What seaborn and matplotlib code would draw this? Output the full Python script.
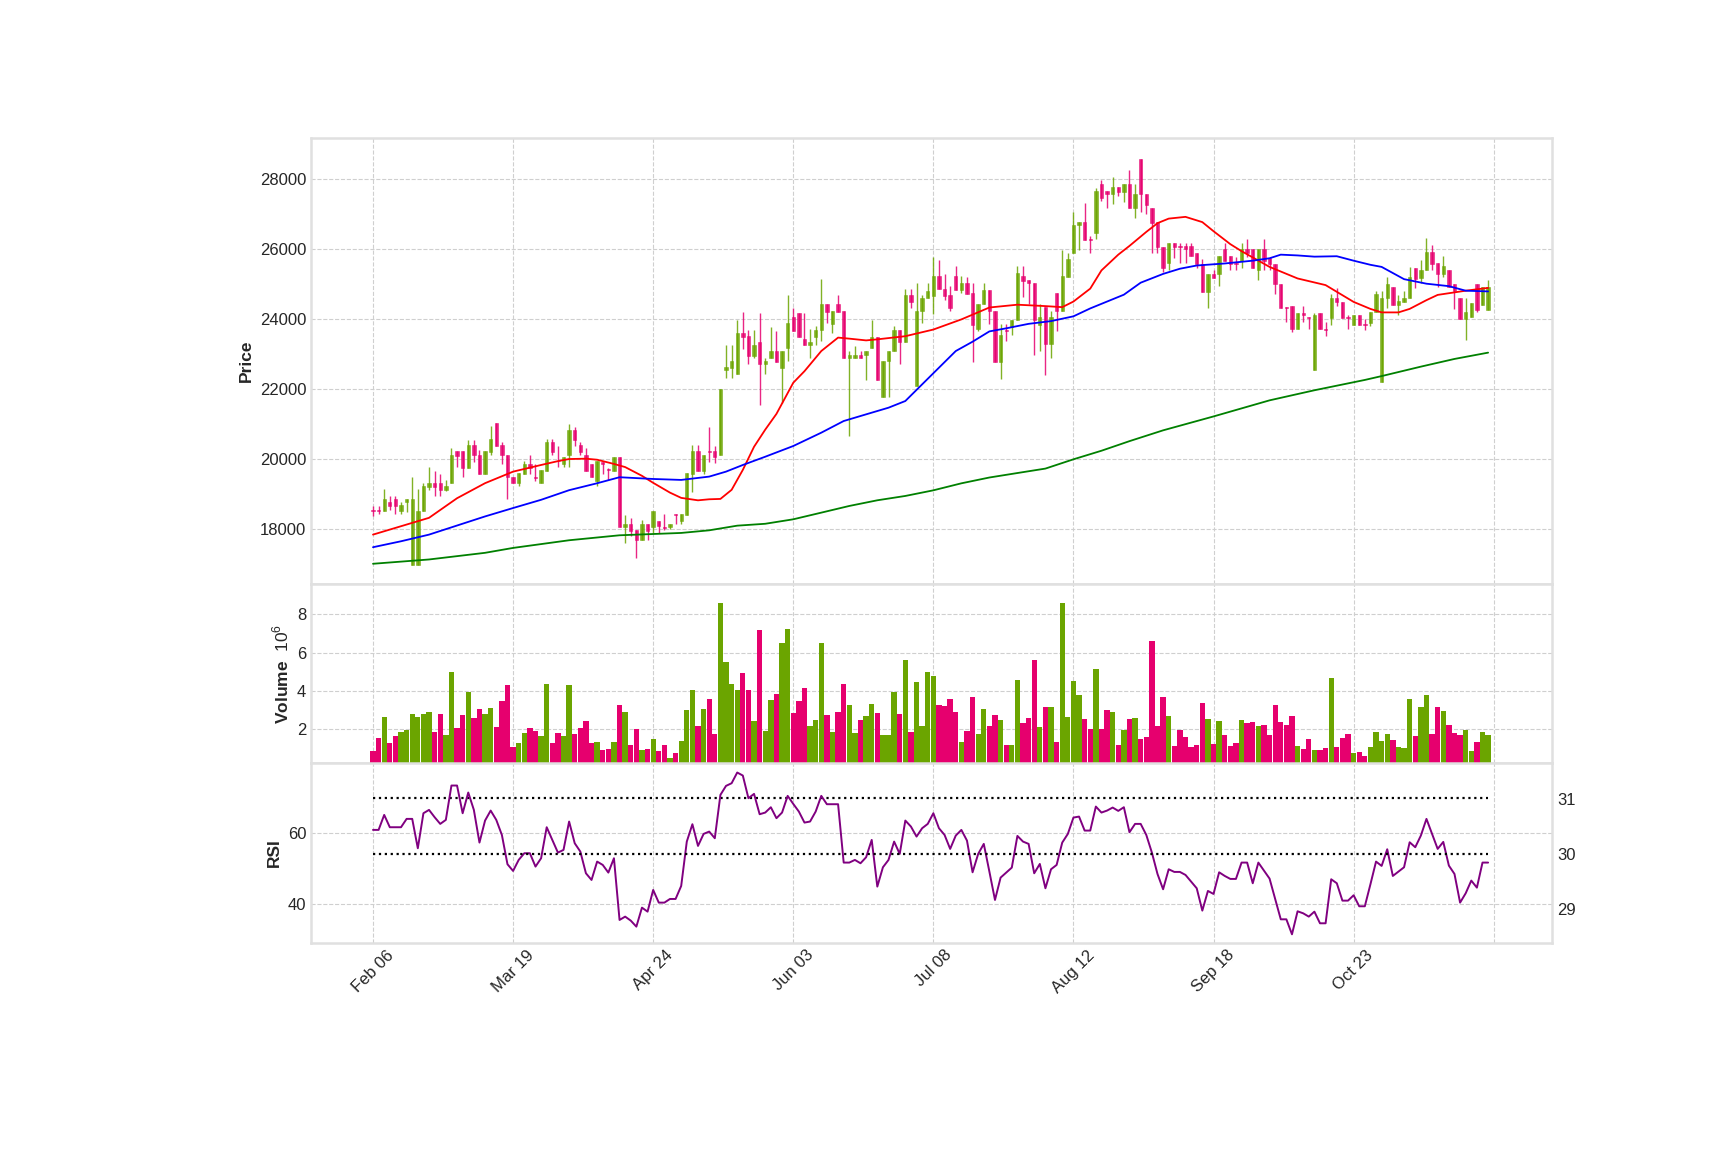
import numpy as np
import matplotlib
matplotlib.use("Agg")
import matplotlib.pyplot as plt
import seaborn as sns

# ---- data (trading-day index 0..199) ----
opens = [18550, 18550, 18513, 18778, 18873, 18513, 18769, 16979, 16979, 18513,
         19223, 19318, 19318, 19129, 19318, 20237, 20237, 19763, 20407, 20123,
         19583, 20218, 21042, 20407, 20123, 19489, 19318, 19583, 19867, 19500,
         19318, 19678, 20483, 19960, 19858, 20123, 20852, 20407, 20123, 19867,
         19384, 19934, 19720, 19678, 20057, 18059, 18163, 17992, 17689, 18163,
         18059, 18250, 18080, 18059, 18440, 18229, 18418, 19583, 20237, 19678,
         20240, 20237, 20123, 22543, 22620, 22448, 23600, 23524, 22953, 23353,
         22715, 22886, 23096, 22620, 23172, 24067, 24171, 23429, 23257, 23505,
         23695, 24428, 23876, 24428, 24238, 22886, 22886, 22981, 22981, 23172,
         23505, 21791, 22810, 23096, 23695, 23353, 24695, 22096, 24238, 24600,
         24667, 25238, 24857, 24695, 25238, 24828, 25028, 24755, 23726, 24441,
         24833, 24245, 22795, 23690, 23775, 23970, 25245, 25127, 25049, 23853,
         24343, 23285, 24755, 24245, 25225, 25906, 26696, 26781, 26300, 26477,
         27857, 27667, 27572, 27781, 27648, 27857, 27172, 28571, 27572, 27172,
         26781, 26077, 25601, 26172, 26100, 26092, 26092, 25885, 25597, 24792,
         25310, 25310, 26000, 25804, 25610, 25655, 26000, 26000, 25402, 26000,
         25747, 25597, 25023, 24340, 24390, 23723, 24183, 24055, 22550, 24183,
         23730, 24045, 24598, 24505, 24055, 23838, 24114, 23860, 23900, 24220,
         22220, 24600, 24920, 24400, 24500, 24600, 25480, 25180, 25400, 25920,
         25600, 25300, 25400, 25000, 24600, 24000, 24080, 25000, 24400, 24280]
highs = [18660, 18660, 19148, 18967, 18940, 18770, 18873, 19488, 19148, 19337,
         19773, 19678, 19583, 19413, 20331, 20237, 20237, 20568, 20568, 20265,
         20237, 20947, 21042, 20483, 20123, 19489, 19621, 19953, 20123, 19867,
         19697, 20578, 20578, 20388, 20057, 21023, 20928, 20483, 20312, 19867,
         19953, 19934, 19767, 20057, 20057, 18409, 18314, 17992, 18258, 18163,
         18532, 18250, 18440, 18163, 18440, 18437, 19602, 20407, 20407, 20123,
         20928, 20388, 22000, 23257, 23257, 23971, 24219, 23686, 23686, 24171,
         22886, 23791, 23681, 23096, 24695, 24333, 24171, 24171, 23714, 23810,
         25142, 24428, 24238, 24695, 24238, 23096, 23238, 23096, 23096, 23972,
         23505, 22810, 23096, 23810, 23695, 24857, 24857, 25047, 24695, 25047,
         25780, 25685, 25285, 24952, 25523, 25245, 25225, 25029, 24441, 25029,
         24833, 24245, 23873, 23873, 23990, 25519, 25519, 25127, 25049, 24441,
         24343, 24245, 24755, 25980, 25911, 27077, 26781, 27334, 26380, 27762,
         27971, 27667, 28067, 27781, 27857, 28257, 27857, 28571, 27572, 27172,
         26781, 26077, 26172, 26172, 26172, 26172, 26172, 25885, 25712, 25310,
         25425, 25804, 26172, 25804, 25770, 26172, 26287, 26000, 26000, 26287,
         25747, 25597, 25023, 24340, 24390, 24183, 24390, 24055, 24183, 24183,
         23930, 24712, 24908, 24505, 24114, 24114, 24114, 24000, 24200, 24800,
         24800, 25200, 24920, 24700, 24800, 25500, 25480, 25700, 26320, 26120,
         25600, 25800, 25400, 25000, 24600, 24600, 24480, 25000, 24920, 25120]
lows = [18370, 18440, 18513, 18550, 18430, 18440, 18510, 16979, 16979, 18513,
        19129, 18964, 18964, 19110, 19318, 19777, 19489, 19763, 19933, 19583,
        19583, 20123, 20388, 19867, 18864, 19318, 19242, 19583, 19583, 19394,
        19318, 19678, 20123, 19780, 19790, 19790, 20388, 20123, 19678, 19489,
        19242, 19583, 19413, 19678, 18059, 17613, 17803, 17187, 17689, 17689,
        17897, 17900, 17970, 18000, 18163, 18150, 18418, 19072, 19678, 19583,
        19933, 19895, 20123, 22334, 22334, 22448, 23162, 22715, 22886, 21553,
        22448, 22886, 22791, 21620, 22810, 23667, 23505, 23257, 22905, 23257,
        23381, 23905, 23619, 24219, 22886, 20668, 22886, 22886, 22258, 23172,
        22258, 21791, 21791, 23096, 22715, 23353, 24314, 22096, 23905, 24600,
        24143, 24857, 24543, 24238, 24828, 24755, 24735, 22795, 23677, 24441,
        23873, 22795, 22305, 23383, 23559, 23970, 24637, 24441, 22990, 23089,
        22403, 22893, 23677, 24245, 25225, 25906, 25990, 26267, 25906, 26286,
        27381, 27191, 27286, 27524, 27362, 27172, 26886, 27077, 27000, 25906,
        25886, 25363, 25410, 25760, 25620, 25620, 25804, 25482, 24792, 24332,
        25195, 24942, 25678, 25400, 25400, 25482, 25770, 25482, 25137, 25400,
        25400, 24735, 24332, 23930, 23642, 23723, 23930, 23723, 22550, 23723,
        23530, 23838, 24390, 24045, 23723, 23838, 23838, 23700, 23820, 24220,
        22220, 24320, 24400, 24120, 24500, 24600, 24900, 25050, 25400, 25400,
        24920, 25200, 24920, 24300, 24000, 23400, 24080, 24200, 24400, 24280]
closes = [18520, 18520, 18873, 18674, 18674, 18693, 18873, 18873, 18532, 19242,
          19318, 19223, 19129, 19242, 20123, 20104, 19763, 20407, 20123, 19583,
          20237, 20578, 20388, 20123, 19489, 19318, 19621, 19867, 19763, 19480,
          19697, 20483, 20218, 19940, 20057, 20852, 20568, 20218, 19678, 19489,
          19953, 19858, 19700, 20057, 18059, 18163, 17964, 17689, 18163, 17964,
          18532, 18100, 18050, 18163, 18420, 18437, 19602, 20237, 19678, 20123,
          20220, 20057, 22000, 22639, 22810, 23600, 23505, 22953, 23267, 22715,
          22810, 23096, 22791, 23096, 23905, 23667, 23505, 23257, 23353, 23695,
          24428, 24219, 24238, 24219, 22886, 22981, 22981, 22886, 23096, 23505,
          22258, 22810, 23096, 23695, 23353, 24695, 24505, 24238, 24619, 24809,
          25238, 24857, 24667, 24333, 24828, 25028, 24735, 23853, 24441, 24833,
          24245, 22795, 23559, 23670, 23990, 25323, 25098, 25029, 23970, 24069,
          23285, 24069, 24245, 25245, 25715, 26696, 26781, 26267, 26280, 27667,
          27457, 27572, 27781, 27648, 27857, 27172, 27591, 27572, 27267, 26762,
          26077, 25477, 26172, 26077, 26080, 26000, 25804, 25597, 24792, 25310,
          25195, 25804, 25678, 25597, 25590, 26000, 25885, 25482, 26000, 25678,
          25597, 25023, 24332, 24320, 23723, 24183, 24114, 24035, 24126, 23723,
          23710, 24598, 24505, 24045, 24035, 24114, 23838, 23840, 24200, 24720,
          24600, 25000, 24400, 24520, 24600, 25200, 25150, 25400, 25920, 25580,
          25300, 25520, 24920, 24820, 24000, 24220, 24480, 24280, 24920, 24920]
volume_m = [0.87, 1.55, 2.65, 1.28, 1.65, 1.86, 1.97, 2.80, 2.65, 2.80,
            2.91, 1.86, 2.80, 1.70, 5.00, 2.07, 2.75, 3.95, 2.59, 3.06,
            2.80, 3.12, 2.12, 3.48, 4.32, 1.08, 1.28, 1.81, 2.07, 1.91,
            1.65, 4.37, 1.28, 1.81, 1.65, 4.32, 1.76, 2.07, 2.44, 1.28,
            1.34, 0.92, 0.97, 1.34, 3.27, 2.91, 1.18, 2.02, 0.92, 0.97,
            1.49, 0.87, 1.18, 0.50, 0.76, 1.39, 3.01, 4.06, 2.17, 3.06,
            3.59, 1.76, 8.61, 5.53, 4.37, 4.06, 4.95, 4.06, 2.44, 7.20,
            1.91, 3.53, 3.84, 6.49, 7.23, 2.85, 3.48, 4.16, 2.17, 2.49,
            6.49, 2.75, 1.86, 2.90, 4.37, 3.27, 1.81, 2.49, 2.70, 3.32,
            2.85, 1.70, 1.70, 3.95, 2.80, 5.62, 1.86, 4.47, 2.17, 4.99,
            4.78, 3.27, 3.22, 3.58, 2.90, 1.34, 1.91, 3.68, 1.77, 3.05,
            2.18, 2.75, 2.48, 1.20, 1.20, 4.55, 2.32, 2.59, 5.59, 2.13,
            3.16, 3.16, 1.32, 8.61, 2.63, 4.50, 3.79, 2.54, 2.04, 5.13,
            2.04, 3.00, 2.89, 1.20, 1.96, 2.54, 2.59, 1.50, 1.61, 6.59,
            2.18, 3.68, 2.68, 1.15, 1.98, 1.58, 1.08, 1.19, 3.35, 2.56,
            1.25, 2.42, 1.69, 1.15, 1.27, 2.46, 2.33, 2.38, 2.17, 2.21,
            1.71, 3.29, 2.38, 2.21, 2.67, 1.15, 0.96, 1.48, 0.94, 0.94,
            1.02, 4.69, 1.08, 1.54, 1.75, 0.77, 0.83, 0.63, 1.08, 1.85,
            1.39, 1.76, 1.45, 1.08, 1.03, 3.58, 1.65, 3.17, 3.78, 1.74,
            3.17, 2.95, 2.22, 1.80, 1.71, 1.94, 0.86, 1.34, 1.85, 1.71]
rsi = [60.94, 60.94, 65.16, 61.69, 61.69, 61.69, 64.04, 64.04, 55.77, 65.63,
       66.57, 64.51, 62.63, 63.76, 73.43, 73.43, 65.63, 71.46, 66.57, 57.37,
       63.57, 66.38, 63.76, 59.53, 51.27, 49.39, 52.49, 54.37, 54.37, 50.61,
       52.96, 61.69, 58.12, 54.55, 55.31, 63.29, 57.18, 54.84, 48.73, 46.85,
       52.02, 51.08, 48.92, 52.96, 35.59, 36.53, 35.40, 33.71, 39.06, 37.93,
       44.04, 40.47, 40.47, 41.50, 41.50, 45.16, 57.65, 62.54, 56.43, 59.81,
       60.47, 58.59, 70.80, 73.33, 74.08, 77.09, 76.24, 69.86, 71.08, 65.35,
       65.82, 67.32, 64.23, 65.82, 70.52, 68.26, 66.10, 63.00, 63.29, 66.10,
       70.52, 68.17, 68.17, 68.17, 51.74, 51.74, 52.49, 51.55, 53.24, 58.12,
       44.98, 50.42, 52.49, 57.65, 54.18, 63.57, 61.88, 59.06, 61.41, 62.63,
       65.63, 61.41, 59.53, 55.59, 59.34, 60.94, 57.93, 49.01, 54.18, 57.00,
       49.20, 41.22, 47.51, 48.92, 50.33, 59.25, 57.65, 57.00, 48.73, 51.36,
       44.51, 49.86, 51.08, 57.37, 59.81, 64.41, 64.69, 60.75, 60.75, 67.51,
       65.82, 66.38, 67.23, 66.29, 67.32, 60.28, 62.63, 62.63, 59.53, 54.55,
       48.54, 44.23, 49.86, 49.11, 49.11, 48.26, 46.38, 44.51, 38.22, 43.76,
       42.91, 49.01, 47.98, 47.14, 47.14, 51.74, 51.74, 45.92, 51.74, 49.48,
       47.23, 41.50, 35.77, 35.77, 31.55, 38.03, 37.46, 36.53, 37.93, 34.65,
       34.65, 47.04, 45.92, 41.03, 41.03, 42.54, 39.44, 39.44, 45.63, 52.02,
       50.80, 55.49, 47.98, 49.20, 50.42, 57.46, 56.06, 59.34, 64.04, 59.81,
       55.59, 57.56, 50.89, 48.54, 40.47, 43.10, 46.67, 44.69, 51.74, 51.74]

# moving averages, read at sample days
ma_fast_idx = [0, 5, 10, 15, 20, 25, 30, 33, 35, 38, 40, 43, 45, 48, 50, 53, 55, 58,
               60, 62, 64, 66, 68, 70, 72, 75, 77, 80, 83, 85, 88, 90, 95, 100,
               105, 110, 115, 120, 123, 125, 128, 130, 133, 135, 138, 140, 142,
               145, 148, 150, 153, 155, 158, 160, 165, 170, 175, 178, 180, 183,
               185, 188, 190, 195, 199]
ma_fast = [17850, 18090, 18330, 18890, 19320, 19650, 19840, 19950, 20010, 20020,
           19990, 19870, 19780, 19530, 19330, 19050, 18900, 18830, 18860, 18870,
           19130, 19700, 20360, 20850, 21300, 22190, 22520, 23096, 23480, 23450,
           23400, 23430, 23520, 23710, 24000, 24340, 24420, 24380, 24350, 24510,
           24880, 25400, 25850, 26100, 26500, 26750, 26880, 26930, 26780, 26520,
           26150, 25950, 25680, 25500, 25170, 24980, 24500, 24300, 24200, 24200,
           24300, 24550, 24700, 24820, 24900]
ma_mid_idx = [0, 5, 10, 15, 20, 25, 30, 35, 40, 44, 50, 55, 60, 63, 66, 70, 75, 80,
              84, 88, 92, 95, 98, 101, 104, 107, 110, 113, 117, 121, 125, 128, 131,
              134, 137, 141, 144, 147, 152, 157, 160, 162, 165, 168, 172, 175, 178,
              180, 184, 188, 192, 195, 199]
ma_mid = [17490, 17660, 17850, 18110, 18370, 18610, 18845, 19120, 19318, 19490,
          19440, 19413, 19508, 19650, 19840, 20076, 20382, 20763, 21096, 21287,
          21477, 21668, 22144, 22620, 23096, 23363, 23657, 23745, 23873, 23951,
          24088, 24314, 24510, 24706, 25049, 25300, 25448, 25540, 25598, 25678,
          25747, 25850, 25828, 25793, 25805, 25678, 25560, 25500, 25150, 25020,
          24950, 24820, 24800]
ma_slow_idx = [0, 10, 20, 25, 35, 44, 55, 60, 65, 70, 75, 80, 85, 90, 95, 100, 105,
               110, 115, 120, 125, 130, 135, 141, 150, 160, 168, 177, 180, 187, 193, 199]
ma_slow = [17017, 17140, 17330, 17470, 17689, 17831, 17898, 17973, 18106, 18160,
           18288, 18478, 18669, 18831, 18955, 19116, 19316, 19482, 19610, 19737,
           20002, 20247, 20521, 20830, 21227, 21687, 21975, 22270, 22380, 22650,
           22870, 23050]

tick_pos = [0, 25, 50, 75, 100, 125, 150, 175, 200]
tick_labels = ["Feb 06", "Mar 19", "Apr 24", "Jun 03", "Jul 08", "Aug 12",
               "Sep 18", "Oct 23", ""]

# ---- styling ----
sns.set_style("whitegrid", {"grid.linestyle": "--", "grid.color": "#cfcfcf",
                            "axes.edgecolor": "#e0e0e0"})
plt.rcParams["font.family"] = ["Liberation Sans", "DejaVu Sans"]
plt.rcParams["mathtext.fontset"] = "custom"
plt.rcParams["mathtext.rm"] = "Liberation Sans"
plt.rcParams["axes.linewidth"] = 1.8

UP, DOWN = "#6ba500", "#e6006e"

idx = np.arange(len(closes))
o = np.array(opens); c = np.array(closes)
h = np.array(highs); l = np.array(lows)
up = c >= o
cols = [UP if u else DOWN for u in up]

fig = plt.figure(figsize=(17.25, 11.5), dpi=100)
L, W = 0.1803, 0.7194
ax_p = fig.add_axes([L, 0.4919, W, 0.3883])
ax_v = fig.add_axes([L, 0.3363, W, 0.1556], sharex=ax_p)
ax_r = fig.add_axes([L, 0.1803, W, 0.1560], sharex=ax_p)

# candles
ax_p.vlines(idx, l, h, colors=cols, linewidth=1.0, alpha=0.85, zorder=2)
body = np.maximum(np.abs(c - o), 18)
ax_p.bar(idx, body, bottom=np.minimum(o, c), width=0.6, color=cols,
         edgecolor=cols, linewidth=0.4, alpha=0.85, zorder=3)
sns.lineplot(x=ma_fast_idx, y=ma_fast, ax=ax_p, color="red", linewidth=1.3, zorder=4)
sns.lineplot(x=ma_mid_idx, y=ma_mid, ax=ax_p, color="blue", linewidth=1.3, zorder=4)
sns.lineplot(x=ma_slow_idx, y=ma_slow, ax=ax_p, color="green", linewidth=1.3, zorder=4)
ax_p.set_ylim(16430, 29190)
ax_p.set_yticks([18000, 20000, 22000, 24000, 26000, 28000])
ax_p.set_ylabel("Price", fontsize=12.5, fontweight="bold")

# volume
ax_v.bar(idx, volume_m, width=0.95, color=cols, linewidth=0, zorder=3)
ax_v.set_ylim(0.23, 9.56)
ax_v.set_yticks([2, 4, 6, 8])
ax_v.set_ylabel("Volume  $10^{6}$", fontsize=12.5, fontweight="bold")

# RSI
sns.lineplot(x=idx, y=rsi, ax=ax_r, color="purple", linewidth=1.4, zorder=4)
ax_r.plot(idx, [70] * len(idx), linestyle=":", color="black", linewidth=1.6)
ax_r.set_ylim(29.2, 79.7)
ax_r.set_yticks([40, 60])
ax_r.set_ylabel("RSI", fontsize=12.5, fontweight="bold")
ax_r2 = ax_r.twinx()
ax_r2.plot(idx, [30] * len(idx), linestyle=":", color="black", linewidth=1.6)
ax_r2.set_ylim(28.39, 31.65)
ax_r2.set_yticks([29, 30, 31])
ax_r2.grid(False)
for s in ax_r2.spines.values():
    s.set_visible(False)

for ax in (ax_p, ax_v, ax_r, ax_r2):
    ax.tick_params(labelsize=12, colors="#262626", length=0)
for ax in (ax_p, ax_v, ax_r):
    ax.grid(True, axis="both")
    ax.set_axisbelow(True)

ax_p.set_xlim(-11.06, 210.4)
ax_r.set_xticks(tick_pos)
ax_r.set_xticklabels(tick_labels, rotation=45, ha="center", fontsize=12)
plt.setp(ax_p.get_xticklabels(), visible=False)
plt.setp(ax_v.get_xticklabels(), visible=False)

fig.savefig("out.png", dpi=100)
